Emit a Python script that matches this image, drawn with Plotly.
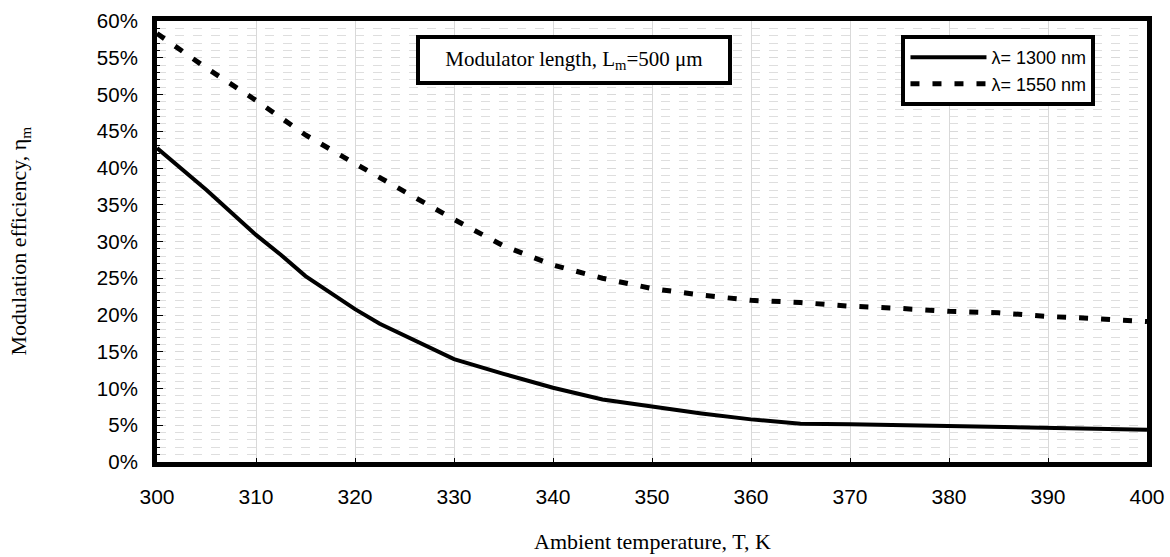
import plotly.graph_objects as go

# Data
temp_1300 = [300, 305, 310, 312.5, 315, 320, 322.5, 330, 335, 340, 345, 350, 355, 360, 365, 370, 380, 390, 400]
eff_1300 = [42.7, 37.0, 30.9, 28.2, 25.3, 20.8, 18.8, 14.0, 12.0, 10.1, 8.5, 7.5, 6.6, 5.8, 5.2, 5.15, 4.9, 4.65, 4.4]

temp_1550 = [300, 305, 310, 315, 320, 325, 330, 335, 340, 345, 350, 355, 360, 365, 370, 375, 380, 385, 390, 395, 400]
eff_1550 = [58.3, 53.6, 49.2, 44.5, 40.6, 36.8, 33.0, 29.4, 26.8, 25.0, 23.6, 22.7, 22.0, 21.7, 21.2, 20.9, 20.5, 20.3, 19.8, 19.5, 19.1]

x_ticks = [300, 310, 320, 330, 340, 350, 360, 370, 380, 390, 400]
y_ticks = [0, 5, 10, 15, 20, 25, 30, 35, 40, 45, 50, 55, 60]

SANS = "Liberation Sans, Arial, sans-serif"
SERIF = "Liberation Serif, Times New Roman, serif"

fig = go.Figure()
fig.add_trace(go.Scatter(x=temp_1300, y=eff_1300, mode="lines", name="λ= 1300 nm",
                         line=dict(color="black", width=4)))
fig.add_trace(go.Scatter(x=temp_1550, y=eff_1550, mode="lines", name="λ= 1550 nm",
                         line=dict(color="black", width=5, dash="9px,13px")))

fig.update_layout(
    width=1170, height=557,
    margin=dict(l=157, r=23, t=21, b=95, autoexpand=False),
    paper_bgcolor="white", plot_bgcolor="white",
    font=dict(family=SANS, color="black", size=20),
    showlegend=True,
    legend=dict(x=0.752, y=0.968, xanchor="left", yanchor="top",
                bordercolor="black", borderwidth=4, bgcolor="white",
                font=dict(family=SANS, size=18, color="black"),
                itemwidth=76, tracegroupgap=0),
    xaxis=dict(range=[300, 400], tickvals=x_ticks, ticktext=[str(v) for v in x_ticks],
               showline=True, linecolor="black", linewidth=5, mirror=True,
               ticks="inside", ticklen=4, tickcolor="black",
               showgrid=True, gridcolor="#d9d9d9", gridwidth=1,
               zeroline=False, ticklabelstandoff=12,
               tickfont=dict(family=SANS, size=21, color="black")),
    yaxis=dict(range=[0, 60], tickvals=y_ticks, ticktext=[f"{v}%" for v in y_ticks],
               showline=True, linecolor="black", linewidth=5, mirror=True,
               ticks="inside", ticklen=6, tickcolor="black",
               showgrid=True, gridcolor="#d9d9d9", gridwidth=1, griddash="dash",
               minor=dict(dtick=1, showgrid=True, gridcolor="#dedede", griddash="dash",
                          ticks="inside", ticklen=3, tickcolor="black"),
               zeroline=False, ticklabelstandoff=10,
               tickfont=dict(family=SANS, size=20.5, color="black")),
)

fig.add_annotation(xref="paper", yref="paper", x=0.421, y=0.9116,
                   xanchor="center", yanchor="middle", showarrow=False,
                   text="Modulator length, L<sub>m</sub>=500 μm",
                   font=dict(family=SERIF, size=21, color="black"),
                   bordercolor="black", borderwidth=4, borderpad=4, bgcolor="white",
                   width=300, height=34)

fig.add_annotation(xref="paper", yref="paper", x=0.5, y=-0.18,
                   xanchor="center", yanchor="middle", showarrow=False,
                   text="Ambient temperature, T, K",
                   font=dict(family=SERIF, size=22, color="black"))

fig.add_annotation(xref="paper", yref="paper", x=-0.138, y=0.501,
                   xanchor="center", yanchor="middle", showarrow=False, textangle=-90,
                   text="Modulation efficiency, η<sub>m</sub>",
                   font=dict(family=SERIF, size=22, color="black"))

fig.write_html("out.html", config={"displayModeBar": False},
               post_script="document.body.style.margin='0';document.body.style.overflow='hidden';")
